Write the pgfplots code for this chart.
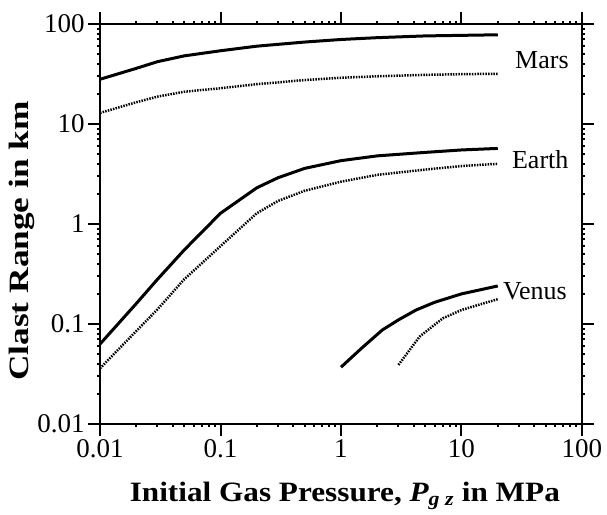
\documentclass[border=0pt]{standalone}
\usepackage{pgfplots}
\pgfplotsset{compat=1.18}
\usepackage{fontspec}
\setmainfont{Liberation Serif}
\newfontfamily\xlabfont[FakeStretch=1.115]{Liberation Serif}
\newfontfamily\ylabfont[FakeStretch=1.26]{Liberation Serif}
\begin{document}
\begin{tikzpicture}
\begin{axis}[
  scale only axis, width=482bp, height=400bp,
  xmode=log, ymode=log,
  xmin=0.01, xmax=100, ymin=0.01, ymax=100,
  xtick={0.01,0.1,1,10,100}, xticklabels={0.01,0.1,1,10,100},
  ytick={0.01,0.1,1,10,100}, yticklabels={0.01,0.1,1,10,100},
  minor xtick={}, minor ytick={},
  tick align=outside, major tick length=12bp,
  tick style={line width=2bp, black},
  axis line style={line width=2.5bp},
  ticklabel style={font=\fontsize{27bp}{30bp}\selectfont},
  /pgf/number format/assume math mode=true,
  xlabel={Initial Gas Pressure, {\itshape P}\textsubscript{\itshape g z} in MPa},
  ylabel={Clast Range in km},
  xlabel style={font=\xlabfont\fontsize{28bp}{30bp}\selectfont\bfseries, anchor=base, at={(axis description cs:0.508,-0.195)}},
  ylabel style={font=\ylabfont\fontsize{28bp}{30bp}\selectfont\bfseries, anchor=center, at={(axis description cs:-0.162,0.4575)}},
  clip=false,
]
\addplot[black, line width=3bp] coordinates {(0.01,28) (0.02,36) (0.03,42) (0.05,48) (0.1,54) (0.2,60) (0.5,66) (1,70) (2,73) (5,76) (10,77) (20,78)};
\addplot[black, line width=2.5bp, dash pattern=on 1.5bp off 1.2bp] coordinates {(0.01,12.9) (0.02,16.5) (0.03,18.8) (0.05,21) (0.1,22.8) (0.2,25) (0.5,27.5) (1,29) (2,30) (5,31) (10,31.5) (20,31.8)};
\addplot[black, line width=3bp] coordinates {(0.01,0.063) (0.02,0.16) (0.03,0.28) (0.05,0.55) (0.1,1.28) (0.2,2.3) (0.3,2.9) (0.5,3.6) (1,4.3) (2,4.8) (5,5.2) (10,5.5) (20,5.7)};
\addplot[black, line width=2.5bp, dash pattern=on 1.5bp off 1.2bp] coordinates {(0.01,0.036) (0.02,0.085) (0.03,0.14) (0.05,0.28) (0.1,0.6) (0.2,1.28) (0.3,1.7) (0.5,2.15) (1,2.65) (2,3.1) (5,3.5) (10,3.8) (20,4.0)};
\addplot[black, line width=3bp] coordinates {(1,0.037) (1.5,0.058) (2.2,0.087) (3,0.11) (4.2,0.138) (6,0.165) (10,0.2) (20,0.24)};
\addplot[black, line width=2.5bp, dash pattern=on 1.5bp off 1.2bp] coordinates {(3,0.039) (4.5,0.075) (7,0.114) (10,0.138) (15,0.16) (20,0.177)};
\node[anchor=base west, inner sep=0pt, font=\fontsize{26bp}{30bp}\selectfont] at (axis cs:27.8,36) {Mars};
\node[anchor=base west, inner sep=0pt, font=\fontsize{26bp}{30bp}\selectfont] at (axis cs:26.2,3.6) {Earth};
\node[anchor=base west, inner sep=0pt, font=\fontsize{26bp}{30bp}\selectfont] at (axis cs:22.1,0.174) {Venus};
\coordinate (BL) at (axis description cs:-0.2075,-0.2275);
\coordinate (TR) at (axis description cs:1.0519,1.06);
\end{axis}
\pgfresetboundingbox
\path[use as bounding box] (BL) rectangle (TR);
\end{tikzpicture}
\end{document}
